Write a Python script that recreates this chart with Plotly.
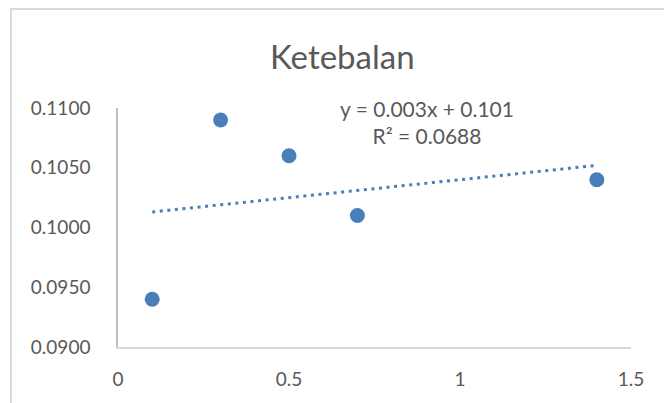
import numpy as np
import plotly.graph_objects as go

# Data
x_vals = [0.1, 0.3, 0.5, 0.7, 1.4]
y_vals = [0.094, 0.109, 0.106, 0.101, 0.104]
title_text = "Ketebalan"
x_ticks = [0, 0.5, 1, 1.5]
y_ticks = [0.090, 0.095, 0.100, 0.105, 0.110]

# Linear trendline (as Excel computes)
slope, intercept = np.polyfit(x_vals, y_vals, 1)
pred = np.polyval([slope, intercept], x_vals)
ss_res = np.sum((np.array(y_vals) - pred) ** 2)
ss_tot = np.sum((np.array(y_vals) - np.mean(y_vals)) ** 2)
r2 = 1 - ss_res / ss_tot
tx = [min(x_vals), max(x_vals)]
ty = [slope * v + intercept for v in tx]

blue = "#4a7ebb"
txt = "#595959"
font = "Lato"

fig = go.Figure()
fig.add_trace(go.Scatter(
    x=tx, y=ty, mode="lines",
    line=dict(color=blue, width=3, dash="3px,4.6px"),
    hoverinfo="skip", showlegend=False,
))
fig.add_trace(go.Scatter(
    x=x_vals, y=y_vals, mode="markers",
    marker=dict(color=blue, size=15),
    showlegend=False,
))

W, H = 664, 403
L, R, T, B = 118, 33, 108, 56
pw, ph = W - L - R, H - T - B

def px_to_paper_x(px):
    return (px - L) / pw

def px_to_paper_y(py):
    return (H - B - py) / ph

fig.update_layout(
    width=W, height=H,
    margin=dict(l=L, r=R, t=T, b=B),
    paper_bgcolor="white", plot_bgcolor="white",
    font=dict(family=font, color=txt, size=19),
    xaxis=dict(
        range=[0, 1.5], tickvals=x_ticks,
        showgrid=False, zeroline=False,
        showline=True, linecolor="#d9d9d9", linewidth=2,
        ticks="outside", ticklen=14, tickcolor="rgba(0,0,0,0)",
        tickfont=dict(family=font, color=txt, size=19),
    ),
    yaxis=dict(
        range=[0.09, 0.11], tickvals=y_ticks, tickformat=".4f",
        showgrid=False, zeroline=False,
        showline=True, linecolor="#bfbfbf", linewidth=1.5,
        ticks="outside", ticklen=22, tickcolor="rgba(0,0,0,0)",
        tickfont=dict(family=font, color=txt, size=19),
    ),
    shapes=[dict(
        type="rect", xref="paper", yref="paper",
        x0=px_to_paper_x(11), x1=px_to_paper_x(700),
        y0=px_to_paper_y(450), y1=px_to_paper_y(9),
        line=dict(color="#d9d9d9", width=2), fillcolor="rgba(0,0,0,0)",
        layer="below",
    )],
    annotations=[
        dict(
            text=title_text, xref="paper", yref="paper",
            x=px_to_paper_x(342), y=px_to_paper_y(56),
            xanchor="center", yanchor="middle", showarrow=False,
            font=dict(family=font, color=txt, size=33),
        ),
        dict(
            text=f"y = {slope:.3f}x + {intercept:.3f}<br>R\u00b2 = {r2:.4f}",
            xref="paper", yref="paper",
            x=px_to_paper_x(427), y=px_to_paper_y(122),
            xanchor="center", yanchor="middle", align="center", showarrow=False,
            font=dict(family=font, color=txt, size=21),
        ),
    ],
)

fig.write_html("out.html")
